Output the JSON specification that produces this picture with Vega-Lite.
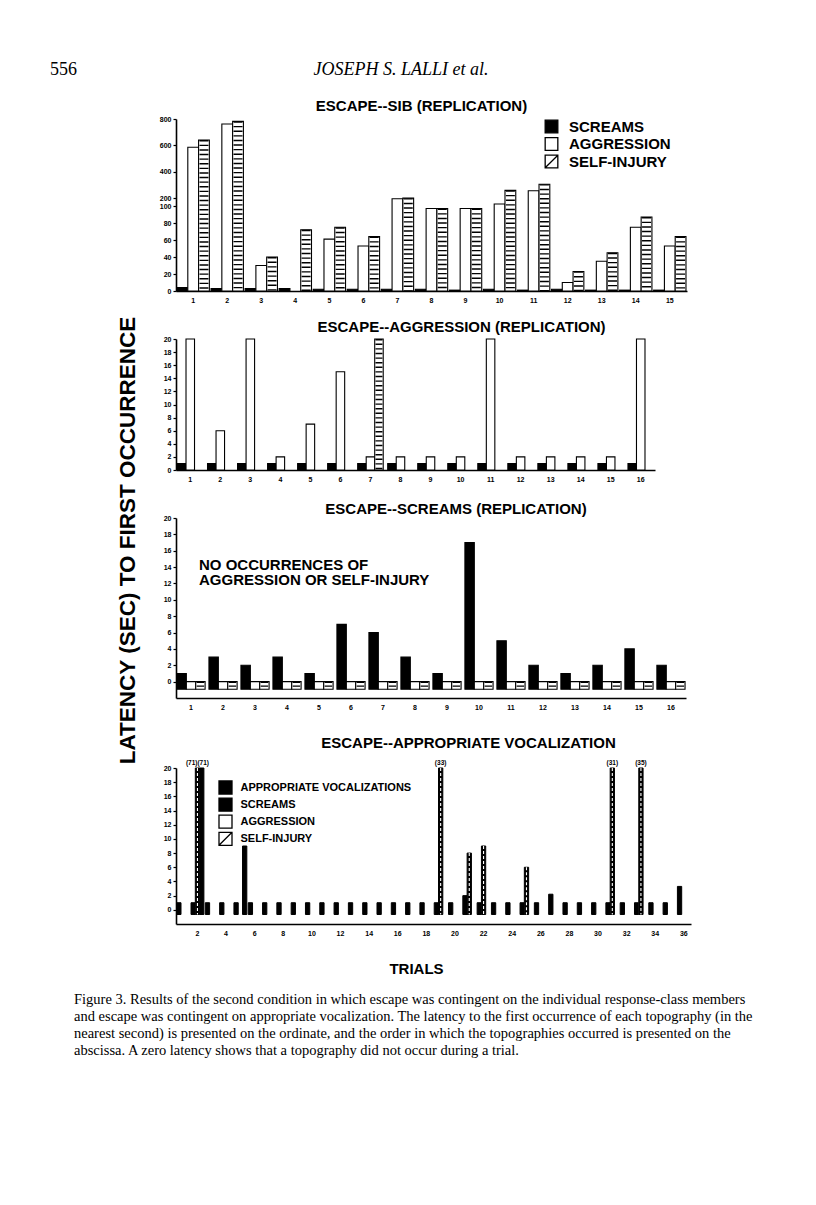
{
  "$schema": "https://vega.github.io/schema/vega-lite/v6.json",
  "background": "white",
  "padding": {"left": 50, "top": 61, "right": 5, "bottom": 5},
  "bounds": "flush",
  "spacing": 48,
  "config": {
    "font": "Liberation Sans",
    "view": {"stroke": null},
    "axis": {"domainColor": "black", "domainWidth": 1.6, "tickColor": "black", "tickWidth": 1.2, "tickSize": 3, "labelColor": "black", "labelFont": "Liberation Sans", "labelFontWeight": "bold", "labelFontSize": 7, "labelPadding": 2, "labelOverlap": false, "labelBound": false, "grid": false, "titleColor": "black", "titleFont": "Liberation Sans", "titleFontWeight": "bold"},
    "axisX": {"ticks": false, "labelPadding": 5, "labelAngle": 0},
    "axisY": {"tickCount": 100, "format": "d"},
    "title": {"font": "Liberation Sans", "fontWeight": "bold", "fontSize": 15, "color": "black", "baseline": "bottom"}
  },
  "resolve": {
    "scale": {"fill": "independent", "shape": "independent", "stroke": "independent", "xOffset": "independent"},
    "legend": {"fill": "independent", "shape": "independent", "stroke": "independent"}
  },
  "datasets": {
    "p1": [
      {"trial": 1, "type": "SCREAMS", "latency": 4}, {"trial": 1, "type": "AGGRESSION", "latency": 585}, {"trial": 1, "type": "SELF-INJURY", "latency": 640},
      {"trial": 2, "type": "SCREAMS", "latency": 3}, {"trial": 2, "type": "AGGRESSION", "latency": 762}, {"trial": 2, "type": "SELF-INJURY", "latency": 782},
      {"trial": 3, "type": "SCREAMS", "latency": 3}, {"trial": 3, "type": "AGGRESSION", "latency": 30}, {"trial": 3, "type": "SELF-INJURY", "latency": 40},
      {"trial": 4, "type": "SCREAMS", "latency": 3}, {"trial": 4, "type": "SELF-INJURY", "latency": 72},
      {"trial": 5, "type": "SCREAMS", "latency": 2}, {"trial": 5, "type": "AGGRESSION", "latency": 61}, {"trial": 5, "type": "SELF-INJURY", "latency": 75},
      {"trial": 6, "type": "SCREAMS", "latency": 2}, {"trial": 6, "type": "AGGRESSION", "latency": 53}, {"trial": 6, "type": "SELF-INJURY", "latency": 64},
      {"trial": 7, "type": "SCREAMS", "latency": 2}, {"trial": 7, "type": "AGGRESSION", "latency": 190}, {"trial": 7, "type": "SELF-INJURY", "latency": 198},
      {"trial": 8, "type": "SCREAMS", "latency": 2}, {"trial": 8, "type": "AGGRESSION", "latency": 97}, {"trial": 8, "type": "SELF-INJURY", "latency": 97},
      {"trial": 9, "type": "SCREAMS", "latency": 1}, {"trial": 9, "type": "AGGRESSION", "latency": 97}, {"trial": 9, "type": "SELF-INJURY", "latency": 97},
      {"trial": 10, "type": "SCREAMS", "latency": 2}, {"trial": 10, "type": "AGGRESSION", "latency": 125}, {"trial": 10, "type": "SELF-INJURY", "latency": 258},
      {"trial": 11, "type": "SCREAMS", "latency": 1}, {"trial": 11, "type": "AGGRESSION", "latency": 255}, {"trial": 11, "type": "SELF-INJURY", "latency": 305},
      {"trial": 12, "type": "SCREAMS", "latency": 2}, {"trial": 12, "type": "AGGRESSION", "latency": 10}, {"trial": 12, "type": "SELF-INJURY", "latency": 23},
      {"trial": 13, "type": "SCREAMS", "latency": 1}, {"trial": 13, "type": "AGGRESSION", "latency": 35}, {"trial": 13, "type": "SELF-INJURY", "latency": 45},
      {"trial": 14, "type": "SCREAMS", "latency": 1}, {"trial": 14, "type": "AGGRESSION", "latency": 75}, {"trial": 14, "type": "SELF-INJURY", "latency": 87},
      {"trial": 15, "type": "SCREAMS", "latency": 1}, {"trial": 15, "type": "AGGRESSION", "latency": 53}, {"trial": 15, "type": "SELF-INJURY", "latency": 64}
    ],
    "p2": [
      {"trial": 1, "type": "SCREAMS", "latency": 1}, {"trial": 1, "type": "AGGRESSION", "latency": 20},
      {"trial": 2, "type": "SCREAMS", "latency": 1}, {"trial": 2, "type": "AGGRESSION", "latency": 6},
      {"trial": 3, "type": "SCREAMS", "latency": 1}, {"trial": 3, "type": "AGGRESSION", "latency": 20},
      {"trial": 4, "type": "SCREAMS", "latency": 1}, {"trial": 4, "type": "AGGRESSION", "latency": 2},
      {"trial": 5, "type": "SCREAMS", "latency": 1}, {"trial": 5, "type": "AGGRESSION", "latency": 7},
      {"trial": 6, "type": "SCREAMS", "latency": 1}, {"trial": 6, "type": "AGGRESSION", "latency": 15},
      {"trial": 7, "type": "SCREAMS", "latency": 1}, {"trial": 7, "type": "AGGRESSION", "latency": 2}, {"trial": 7, "type": "SELF-INJURY", "latency": 20},
      {"trial": 8, "type": "SCREAMS", "latency": 1}, {"trial": 8, "type": "AGGRESSION", "latency": 2},
      {"trial": 9, "type": "SCREAMS", "latency": 1}, {"trial": 9, "type": "AGGRESSION", "latency": 2},
      {"trial": 10, "type": "SCREAMS", "latency": 1}, {"trial": 10, "type": "AGGRESSION", "latency": 2},
      {"trial": 11, "type": "SCREAMS", "latency": 1}, {"trial": 11, "type": "AGGRESSION", "latency": 20},
      {"trial": 12, "type": "SCREAMS", "latency": 1}, {"trial": 12, "type": "AGGRESSION", "latency": 2},
      {"trial": 13, "type": "SCREAMS", "latency": 1}, {"trial": 13, "type": "AGGRESSION", "latency": 2},
      {"trial": 14, "type": "SCREAMS", "latency": 1}, {"trial": 14, "type": "AGGRESSION", "latency": 2},
      {"trial": 15, "type": "SCREAMS", "latency": 1}, {"trial": 15, "type": "AGGRESSION", "latency": 2},
      {"trial": 16, "type": "SCREAMS", "latency": 1}, {"trial": 16, "type": "AGGRESSION", "latency": 20}
    ],
    "p3": [
      {"trial": 1, "type": "SCREAMS", "latency": 1}, {"trial": 1, "type": "AGGRESSION", "latency": 0}, {"trial": 1, "type": "SELF-INJURY", "latency": 0},
      {"trial": 2, "type": "SCREAMS", "latency": 3}, {"trial": 2, "type": "AGGRESSION", "latency": 0}, {"trial": 2, "type": "SELF-INJURY", "latency": 0},
      {"trial": 3, "type": "SCREAMS", "latency": 2}, {"trial": 3, "type": "AGGRESSION", "latency": 0}, {"trial": 3, "type": "SELF-INJURY", "latency": 0},
      {"trial": 4, "type": "SCREAMS", "latency": 3}, {"trial": 4, "type": "AGGRESSION", "latency": 0}, {"trial": 4, "type": "SELF-INJURY", "latency": 0},
      {"trial": 5, "type": "SCREAMS", "latency": 1}, {"trial": 5, "type": "AGGRESSION", "latency": 0}, {"trial": 5, "type": "SELF-INJURY", "latency": 0},
      {"trial": 6, "type": "SCREAMS", "latency": 7}, {"trial": 6, "type": "AGGRESSION", "latency": 0}, {"trial": 6, "type": "SELF-INJURY", "latency": 0},
      {"trial": 7, "type": "SCREAMS", "latency": 6}, {"trial": 7, "type": "AGGRESSION", "latency": 0}, {"trial": 7, "type": "SELF-INJURY", "latency": 0},
      {"trial": 8, "type": "SCREAMS", "latency": 3}, {"trial": 8, "type": "AGGRESSION", "latency": 0}, {"trial": 8, "type": "SELF-INJURY", "latency": 0},
      {"trial": 9, "type": "SCREAMS", "latency": 1}, {"trial": 9, "type": "AGGRESSION", "latency": 0}, {"trial": 9, "type": "SELF-INJURY", "latency": 0},
      {"trial": 10, "type": "SCREAMS", "latency": 17}, {"trial": 10, "type": "AGGRESSION", "latency": 0}, {"trial": 10, "type": "SELF-INJURY", "latency": 0},
      {"trial": 11, "type": "SCREAMS", "latency": 5}, {"trial": 11, "type": "AGGRESSION", "latency": 0}, {"trial": 11, "type": "SELF-INJURY", "latency": 0},
      {"trial": 12, "type": "SCREAMS", "latency": 2}, {"trial": 12, "type": "AGGRESSION", "latency": 0}, {"trial": 12, "type": "SELF-INJURY", "latency": 0},
      {"trial": 13, "type": "SCREAMS", "latency": 1}, {"trial": 13, "type": "AGGRESSION", "latency": 0}, {"trial": 13, "type": "SELF-INJURY", "latency": 0},
      {"trial": 14, "type": "SCREAMS", "latency": 2}, {"trial": 14, "type": "AGGRESSION", "latency": 0}, {"trial": 14, "type": "SELF-INJURY", "latency": 0},
      {"trial": 15, "type": "SCREAMS", "latency": 4}, {"trial": 15, "type": "AGGRESSION", "latency": 0}, {"trial": 15, "type": "SELF-INJURY", "latency": 0},
      {"trial": 16, "type": "SCREAMS", "latency": 2}, {"trial": 16, "type": "AGGRESSION", "latency": 0}, {"trial": 16, "type": "SELF-INJURY", "latency": 0}
    ],
    "p4": [
      {"trial": 1, "type": "APPROPRIATE VOCALIZATIONS", "latency": 1},
      {"trial": 2, "type": "APPROPRIATE VOCALIZATIONS", "latency": 1}, {"trial": 2, "type": "SCREAMS", "latency": 71}, {"trial": 2, "type": "SELF-INJURY", "latency": 71},
      {"trial": 3, "type": "APPROPRIATE VOCALIZATIONS", "latency": 1},
      {"trial": 4, "type": "APPROPRIATE VOCALIZATIONS", "latency": 1},
      {"trial": 5, "type": "APPROPRIATE VOCALIZATIONS", "latency": 1}, {"trial": 5, "type": "SCREAMS", "latency": 9},
      {"trial": 6, "type": "APPROPRIATE VOCALIZATIONS", "latency": 1},
      {"trial": 7, "type": "APPROPRIATE VOCALIZATIONS", "latency": 1},
      {"trial": 8, "type": "APPROPRIATE VOCALIZATIONS", "latency": 1},
      {"trial": 9, "type": "APPROPRIATE VOCALIZATIONS", "latency": 1},
      {"trial": 10, "type": "APPROPRIATE VOCALIZATIONS", "latency": 1},
      {"trial": 11, "type": "APPROPRIATE VOCALIZATIONS", "latency": 1},
      {"trial": 12, "type": "APPROPRIATE VOCALIZATIONS", "latency": 1},
      {"trial": 13, "type": "APPROPRIATE VOCALIZATIONS", "latency": 1},
      {"trial": 14, "type": "APPROPRIATE VOCALIZATIONS", "latency": 1},
      {"trial": 15, "type": "APPROPRIATE VOCALIZATIONS", "latency": 1},
      {"trial": 16, "type": "APPROPRIATE VOCALIZATIONS", "latency": 1},
      {"trial": 17, "type": "APPROPRIATE VOCALIZATIONS", "latency": 1},
      {"trial": 18, "type": "APPROPRIATE VOCALIZATIONS", "latency": 1},
      {"trial": 19, "type": "APPROPRIATE VOCALIZATIONS", "latency": 1}, {"trial": 19, "type": "SELF-INJURY", "latency": 33},
      {"trial": 20, "type": "APPROPRIATE VOCALIZATIONS", "latency": 1},
      {"trial": 21, "type": "APPROPRIATE VOCALIZATIONS", "latency": 2}, {"trial": 21, "type": "SELF-INJURY", "latency": 8},
      {"trial": 22, "type": "APPROPRIATE VOCALIZATIONS", "latency": 1}, {"trial": 22, "type": "SELF-INJURY", "latency": 9},
      {"trial": 23, "type": "APPROPRIATE VOCALIZATIONS", "latency": 1},
      {"trial": 24, "type": "APPROPRIATE VOCALIZATIONS", "latency": 1},
      {"trial": 25, "type": "APPROPRIATE VOCALIZATIONS", "latency": 1}, {"trial": 25, "type": "SELF-INJURY", "latency": 6},
      {"trial": 26, "type": "APPROPRIATE VOCALIZATIONS", "latency": 1},
      {"trial": 27, "type": "APPROPRIATE VOCALIZATIONS", "latency": 2.2},
      {"trial": 28, "type": "APPROPRIATE VOCALIZATIONS", "latency": 1},
      {"trial": 29, "type": "APPROPRIATE VOCALIZATIONS", "latency": 1},
      {"trial": 30, "type": "APPROPRIATE VOCALIZATIONS", "latency": 1},
      {"trial": 31, "type": "APPROPRIATE VOCALIZATIONS", "latency": 1}, {"trial": 31, "type": "SELF-INJURY", "latency": 31},
      {"trial": 32, "type": "APPROPRIATE VOCALIZATIONS", "latency": 1},
      {"trial": 33, "type": "APPROPRIATE VOCALIZATIONS", "latency": 1}, {"trial": 33, "type": "SELF-INJURY", "latency": 35},
      {"trial": 34, "type": "APPROPRIATE VOCALIZATIONS", "latency": 1},
      {"trial": 35, "type": "APPROPRIATE VOCALIZATIONS", "latency": 1},
      {"trial": 36, "type": "APPROPRIATE VOCALIZATIONS", "latency": 3.3}
    ],
    "p4labels": [
      {"trial": 2, "note": "(71)(71)"},
      {"trial": 19, "note": "(33)"},
      {"trial": 31, "note": "(31)"},
      {"trial": 33, "note": "(35)"}
    ]
  },
  "vconcat": [
    {
      "width": 450,
      "height": 2,
      "data": {"values": [{"author": "JOSEPH S. LALLI et al."}]},
      "title": {"text": "556", "orient": "left", "angle": 0, "align": "right", "baseline": "middle", "anchor": "middle", "frame": "group", "offset": 72, "font": "Liberation Serif", "fontSize": 18, "fontWeight": "normal"},
      "mark": {"type": "text", "font": "Liberation Serif", "fontStyle": "italic", "fontSize": 18, "baseline": "middle", "color": "black"},
      "encoding": {"text": {"field": "author"}}
    },
    {
      "width": 511,
      "height": 172,
      "data": {"name": "p1"},
      "title": {"text": "ESCAPE--SIB (REPLICATION)", "anchor": "middle", "frame": "group", "dx": -10, "offset": 1},
      "layer": [
        {
          "mark": {"type": "bar", "strokeWidth": 1.1},
          "encoding": {
            "x": {"field": "trial", "type": "ordinal", "scale": {"paddingInner": 0.05, "paddingOuter": 0.03}, "axis": {"title": null}},
            "xOffset": {"field": "type", "scale": {"domain": ["SCREAMS", "AGGRESSION", "SELF-INJURY"]}},
            "y": {"field": "latency", "type": "quantitative", "scale": {"domain": [0, 100, 200, 800], "range": [172, 87, 79, 0]}, "axis": {"values": [0, 20, 40, 60, 80, 100, 200, 400, 600, 800], "format": "d", "tickCount": 100, "labelOverlap": false, "title": "LATENCY (SEC) TO FIRST OCCURRENCE", "titleFontSize": 22.5, "titleAngle": 270, "titleX": -49, "titleY": 421, "titleAlign": "center", "titleBaseline": "middle"}},
            "y2": {"datum": 0},
            "fill": {"field": "type", "scale": {"domain": ["SCREAMS", "AGGRESSION", "SELF-INJURY"], "range": ["black", "white", "white"]}, "legend": {"title": null, "orient": "none", "legendX": 368, "legendY": 0, "padding": 0, "labelFont": "Liberation Sans", "labelFontWeight": "bold", "labelFontSize": 15, "labelColor": "black", "labelLimit": 300, "symbolSize": 160, "symbolStrokeWidth": 1.3, "symbolOpacity": 1, "rowPadding": -1.5, "labelOffset": 10}},
            "stroke": {"field": "type", "scale": {"domain": ["SCREAMS", "AGGRESSION", "SELF-INJURY"], "range": ["black", "black", "black"]}, "legend": {"title": null, "orient": "none", "legendX": 368, "legendY": 0, "padding": 0, "labelFont": "Liberation Sans", "labelFontWeight": "bold", "labelFontSize": 15, "labelColor": "black", "labelLimit": 300, "symbolSize": 160, "symbolStrokeWidth": 1.3, "symbolOpacity": 1, "rowPadding": -1.5, "labelOffset": 10}}
          }
        },
        {
          "transform": [{"filter": "datum.type === 'SELF-INJURY'"}],
          "mark": {"type": "rule", "color": "black", "strokeWidth": 9, "strokeDash": [1.4, 3.2]},
          "encoding": {
            "x": {"field": "trial", "type": "ordinal"},
            "xOffset": {"field": "type"},
            "y": {"field": "latency", "type": "quantitative"},
            "y2": {"datum": 0}
          }
        },
        {
          "mark": {"type": "point", "filled": true, "size": 0, "strokeWidth": 1.3},
          "encoding": {
            "x": {"field": "trial", "type": "ordinal"},
            "xOffset": {"field": "type"},
            "y": {"field": "latency", "type": "quantitative"},
            "fill": {"field": "type", "legend": {"title": null, "orient": "none", "legendX": 368, "legendY": 0, "padding": 0, "labelFont": "Liberation Sans", "labelFontWeight": "bold", "labelFontSize": 15, "labelColor": "black", "labelLimit": 300, "symbolSize": 160, "symbolStrokeWidth": 1.3, "symbolOpacity": 1, "rowPadding": -1.5, "labelOffset": 10}},
            "stroke": {"field": "type", "legend": {"title": null, "orient": "none", "legendX": 368, "legendY": 0, "padding": 0, "labelFont": "Liberation Sans", "labelFontWeight": "bold", "labelFontSize": 15, "labelColor": "black", "labelLimit": 300, "symbolSize": 160, "symbolStrokeWidth": 1.3, "symbolOpacity": 1, "rowPadding": -1.5, "labelOffset": 10}},
            "shape": {"field": "type", "scale": {"domain": ["SCREAMS", "AGGRESSION", "SELF-INJURY"], "range": ["square", "square", "M-1,-1H1V1H-1Z M-1,1L1,-1"]}, "legend": {"title": null, "orient": "none", "legendX": 368, "legendY": 0, "padding": 0, "labelFont": "Liberation Sans", "labelFontWeight": "bold", "labelFontSize": 15, "labelColor": "black", "labelLimit": 300, "symbolSize": 160, "symbolStrokeWidth": 1.3, "symbolOpacity": 1, "rowPadding": -1.5, "labelOffset": 10}}
          }
        }
      ]
    },
    {
      "width": 479,
      "height": 131,
      "data": {"name": "p2"},
      "title": {"text": "ESCAPE--AGGRESSION (REPLICATION)", "anchor": "middle", "frame": "group", "dx": 46, "offset": 0},
      "layer": [
        {
          "mark": {"type": "bar", "stroke": "black", "strokeWidth": 1.1},
          "encoding": {
            "x": {"field": "trial", "type": "ordinal", "scale": {"paddingInner": 0.15, "paddingOuter": 0.05}, "axis": {"title": null}},
            "xOffset": {"field": "type", "scale": {"domain": ["SCREAMS", "AGGRESSION", "SELF-INJURY"]}},
            "y": {"field": "latency", "type": "quantitative", "scale": {"domain": [0, 20]}, "axis": {"title": null, "format": "d", "tickCount": 100, "labelOverlap": false, "values": [0, 2, 4, 6, 8, 10, 12, 14, 16, 18, 20]}},
            "y2": {"datum": 0},
            "fill": {"field": "type", "scale": {"domain": ["SCREAMS", "AGGRESSION", "SELF-INJURY"], "range": ["black", "white", "white"]}, "legend": null}
          }
        },
        {
          "transform": [{"filter": "datum.type === 'SELF-INJURY'"}],
          "mark": {"type": "rule", "color": "black", "strokeWidth": 7, "strokeDash": [1.4, 3.2]},
          "encoding": {
            "x": {"field": "trial", "type": "ordinal"},
            "xOffset": {"field": "type"},
            "y": {"field": "latency", "type": "quantitative"},
            "y2": {"datum": 0}
          }
        }
      ]
    },
    {
      "width": 510,
      "height": 180,
      "data": {"name": "p3"},
      "title": {"text": "ESCAPE--SCREAMS (REPLICATION)", "anchor": "middle", "frame": "group", "dx": 25, "offset": -3},
      "layer": [
        {
          "mark": {"type": "bar", "stroke": "black", "strokeWidth": 1.1},
          "encoding": {
            "x": {"field": "trial", "type": "ordinal", "scale": {"paddingInner": 0.12, "paddingOuter": 0.03}, "axis": {"title": null}},
            "xOffset": {"field": "type", "scale": {"domain": ["SCREAMS", "AGGRESSION", "SELF-INJURY"]}},
            "y": {"field": "latency", "type": "quantitative", "scale": {"domain": [-0.93, 20]}, "axis": {"title": null, "format": "d", "tickCount": 100, "labelOverlap": false, "values": [0, 2, 4, 6, 8, 10, 12, 14, 16, 18, 20]}},
            "y2": {"datum": -0.93},
            "fill": {"field": "type", "scale": {"domain": ["SCREAMS", "AGGRESSION", "SELF-INJURY"], "range": ["black", "white", "white"]}, "legend": null}
          }
        },
        {
          "transform": [{"filter": "datum.type === 'SELF-INJURY'"}],
          "mark": {"type": "rule", "color": "black", "strokeWidth": 7.5, "strokeDash": [1.4, 2.4]},
          "encoding": {
            "x": {"field": "trial", "type": "ordinal"},
            "xOffset": {"field": "type"},
            "y": {"field": "latency", "type": "quantitative"},
            "y2": {"datum": -0.93}
          }
        },
        {
          "data": {"values": [{"note": ["NO OCCURRENCES OF", "AGGRESSION OR SELF-INJURY"]}]},
          "mark": {"type": "text", "align": "left", "baseline": "top", "dx": 8, "fontSize": 15, "fontWeight": "bold", "lineHeight": 15.5, "color": "black", "font": "Liberation Sans"},
          "encoding": {
            "x": {"datum": 1, "type": "ordinal"},
            "y": {"datum": 15.17, "type": "quantitative"},
            "text": {"field": "note"}
          }
        }
      ]
    },
    {
      "width": 515,
      "height": 178,
      "data": {"name": "p4"},
      "title": {"text": "ESCAPE--APPROPRIATE VOCALIZATION", "anchor": "middle", "frame": "group", "dx": 35, "offset": -5},
      "layer": [
        {
          "mark": {"type": "bar", "strokeWidth": 1},
          "encoding": {
            "x": {"field": "trial", "type": "ordinal", "scale": {"paddingInner": 0.1, "paddingOuter": 0.05}, "axis": {"values": [2, 4, 6, 8, 10, 12, 14, 16, 18, 20, 22, 24, 26, 28, 30, 32, 34, 36], "title": "TRIALS", "titleFontSize": 15, "titleX": 240, "titleY": 44, "titleAlign": "center", "titleBaseline": "middle"}},
            "xOffset": {"field": "type", "scale": {"domain": ["APPROPRIATE VOCALIZATIONS", "SELF-INJURY", "SCREAMS"]}},
            "y": {"field": "latency", "type": "quantitative", "scale": {"domain": [-0.66, 20], "range": [178, 22], "clamp": true}, "axis": {"title": null, "format": "d", "tickCount": 100, "labelOverlap": false, "values": [0, 2, 4, 6, 8, 10, 12, 14, 16, 18, 20]}},
            "y2": {"datum": -0.66},
            "fill": {"field": "type", "scale": {"domain": ["APPROPRIATE VOCALIZATIONS", "SCREAMS", "AGGRESSION", "SELF-INJURY"], "range": ["black", "black", "white", "white"]}, "legend": {"title": null, "orient": "none", "legendX": 42, "legendY": 34, "padding": 0, "labelFont": "Liberation Sans", "labelFontWeight": "bold", "labelFontSize": 11, "labelColor": "black", "labelLimit": 300, "symbolSize": 169, "symbolStrokeWidth": 1.3, "symbolOpacity": 1, "rowPadding": -1.9, "labelOffset": 7.5}},
            "stroke": {"field": "type", "scale": {"domain": ["APPROPRIATE VOCALIZATIONS", "SCREAMS", "AGGRESSION", "SELF-INJURY"], "range": ["black", "black", "black", "black"]}, "legend": {"title": null, "orient": "none", "legendX": 42, "legendY": 34, "padding": 0, "labelFont": "Liberation Sans", "labelFontWeight": "bold", "labelFontSize": 11, "labelColor": "black", "labelLimit": 300, "symbolSize": 169, "symbolStrokeWidth": 1.3, "symbolOpacity": 1, "rowPadding": -1.9, "labelOffset": 7.5}}
          }
        },
        {
          "transform": [{"filter": "datum.type === 'SELF-INJURY'"}],
          "mark": {"type": "rule", "color": "black", "strokeWidth": 4.3},
          "encoding": {
            "x": {"field": "trial", "type": "ordinal"},
            "xOffset": {"field": "type"},
            "y": {"field": "latency", "type": "quantitative"},
            "y2": {"datum": -0.66}
          }
        },
        {
          "transform": [{"filter": "datum.type === 'SELF-INJURY'"}],
          "mark": {"type": "rule", "color": "white", "strokeWidth": 1.1, "strokeDash": [3, 2]},
          "encoding": {
            "x": {"field": "trial", "type": "ordinal"},
            "xOffset": {"field": "type"},
            "y": {"field": "latency", "type": "quantitative"},
            "y2": {"datum": -0.66}
          }
        },
        {
          "data": {"name": "p4labels"},
          "mark": {"type": "text", "baseline": "bottom", "dy": -2, "fontSize": 6.5, "fontWeight": "bold", "color": "black", "font": "Liberation Sans"},
          "encoding": {
            "x": {"field": "trial", "type": "ordinal"},
            "y": {"datum": 20, "type": "quantitative"},
            "text": {"field": "note"}
          }
        },
        {
          "mark": {"type": "point", "filled": true, "size": 0, "strokeWidth": 1.3},
          "encoding": {
            "x": {"field": "trial", "type": "ordinal"},
            "xOffset": {"field": "type"},
            "y": {"field": "latency", "type": "quantitative"},
            "fill": {"field": "type", "legend": {"title": null, "orient": "none", "legendX": 42, "legendY": 34, "padding": 0, "labelFont": "Liberation Sans", "labelFontWeight": "bold", "labelFontSize": 11, "labelColor": "black", "labelLimit": 300, "symbolSize": 169, "symbolStrokeWidth": 1.3, "symbolOpacity": 1, "rowPadding": -1.9, "labelOffset": 7.5}},
            "stroke": {"field": "type", "legend": {"title": null, "orient": "none", "legendX": 42, "legendY": 34, "padding": 0, "labelFont": "Liberation Sans", "labelFontWeight": "bold", "labelFontSize": 11, "labelColor": "black", "labelLimit": 300, "symbolSize": 169, "symbolStrokeWidth": 1.3, "symbolOpacity": 1, "rowPadding": -1.9, "labelOffset": 7.5}},
            "shape": {"field": "type", "scale": {"domain": ["APPROPRIATE VOCALIZATIONS", "SCREAMS", "AGGRESSION", "SELF-INJURY"], "range": ["square", "square", "square", "M-1,-1H1V1H-1Z M-1,1L1,-1"]}, "legend": {"title": null, "orient": "none", "legendX": 42, "legendY": 34, "padding": 0, "labelFont": "Liberation Sans", "labelFontWeight": "bold", "labelFontSize": 11, "labelColor": "black", "labelLimit": 300, "symbolSize": 169, "symbolStrokeWidth": 1.3, "symbolOpacity": 1, "rowPadding": -1.9, "labelOffset": 7.5}}
          }
        }
      ]
    },
    {
      "width": 450,
      "height": 1,
      "data": {"values": [{"blank": ""}]},
      "title": {
        "text": [
          "Figure 3.   Results of the second condition in which escape was contingent on the individual response-class members",
          "and escape was contingent on appropriate vocalization. The latency to the first occurrence of each topography (in the",
          "nearest second) is presented on the ordinate, and the order in which the topographies occurred is presented on the",
          "abscissa. A zero latency shows that a topography did not occur during a trial."
        ],
        "orient": "bottom", "anchor": "start", "align": "left", "frame": "group", "dx": -102, "offset": 15, "baseline": "top",
        "font": "Liberation Serif", "fontSize": 14.5, "fontWeight": "normal", "lineHeight": 17
      },
      "mark": {"type": "text"},
      "encoding": {"text": {"field": "blank"}}
    }
  ]
}
